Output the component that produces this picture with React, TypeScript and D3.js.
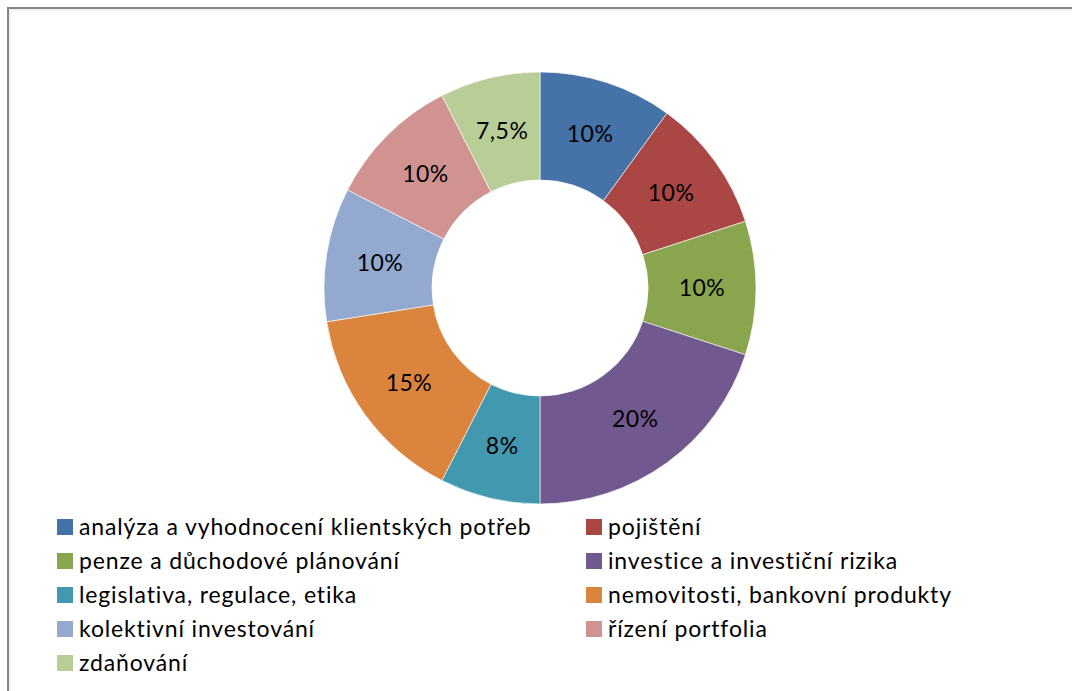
import React, { useEffect, useRef } from "react";
import * as d3 from "d3";

const categories = [
  "analýza a vyhodnocení klientských potřeb",
  "pojištění",
  "penze a důchodové plánování",
  "investice a investiční rizika",
  "legislativa, regulace, etika",
  "nemovitosti, bankovní produkty",
  "kolektivní investování",
  "řízení portfolia",
  "zdaňování",
];
const values = [10, 10, 10, 20, 7.5, 15, 10, 10, 7.5];
const labels = ["10%", "10%", "10%", "20%", "8%", "15%", "10%", "10%", "7,5%"];
const colors = [
  "#4572A7", "#AA4643", "#89A54E", "#71588F", "#4198AF",
  "#DB843D", "#93A9CF", "#D19392", "#B9CD96",
];

const W = 1072;
const H = 691;
const FONT = "Lato, 'Open Sans', sans-serif";

export default function App() {
  const ref = useRef<SVGSVGElement | null>(null);
  useEffect(() => {
    const svg = d3.select(ref.current);
    svg.selectAll("*").remove();

    svg.append("rect").attr("width", W).attr("height", H).attr("fill", "#fff");
    // chart border
    svg.append("rect")
      .attr("x", 8).attr("y", 8).attr("width", W + 20).attr("height", H + 20)
      .attr("fill", "none").attr("stroke", "#868686").attr("stroke-width", 2);
    svg.append("rect")
      .attr("x", 10).attr("y", 10).attr("width", W + 20).attr("height", H + 20)
      .attr("fill", "none").attr("stroke", "#e2e2e2").attr("stroke-width", 1);

    const cx = 540, cy = 288, rOuter = 216, rInner = 108;
    const pie = d3.pie<number>().sort(null).value((d) => d);
    const arcs = pie(values);
    const arc = d3.arc<d3.PieArcDatum<number>>().innerRadius(rInner).outerRadius(rOuter);
    const labelArc = d3.arc<d3.PieArcDatum<number>>()
      .innerRadius((rInner + rOuter) / 2).outerRadius((rInner + rOuter) / 2);

    const g = svg.append("g").attr("transform", `translate(${cx},${cy})`);
    g.selectAll("path.slice").data(arcs).enter().append("path")
      .attr("class", "slice")
      .attr("d", arc as any)
      .attr("fill", (_d, i) => colors[i])
      .attr("stroke", "#fff").attr("stroke-width", 0.6);

    g.selectAll("text.lbl").data(arcs).enter().append("text")
      .attr("class", "lbl")
      .attr("transform", (d) => {
        const [x, y] = labelArc.centroid(d);
        return `translate(${x},${y})`;
      })
      .attr("text-anchor", "middle")
      .attr("dy", "0.35em")
      .attr("font-family", FONT)
      .attr("font-size", 23)
      .attr("letter-spacing", 0.5)
      .attr("fill", "#000")
      .text((_d, i) => labels[i]);

    // legend
    const colX = [57, 586];
    const rowY0 = 535, rowH = 34;
    const lg = svg.append("g");
    categories.forEach((c, i) => {
      const col = i % 2;
      const row = Math.floor(i / 2);
      const x = colX[col];
      const y = rowY0 + row * rowH;
      lg.append("rect").attr("x", x).attr("y", y - 16).attr("width", 16).attr("height", 16)
        .attr("fill", colors[i]);
      lg.append("text").attr("x", x + 22).attr("y", y)
        .attr("font-family", FONT).attr("font-size", 23)
        .attr("letter-spacing", 0.85).attr("fill", "#000")
        .text(c);
    });
  }, []);

  return (
    <div style={{ position: "absolute", left: 0, top: 0 }}>
      <svg ref={ref} width={W} height={H} style={{ display: "block" }} />
    </div>
  );
}
